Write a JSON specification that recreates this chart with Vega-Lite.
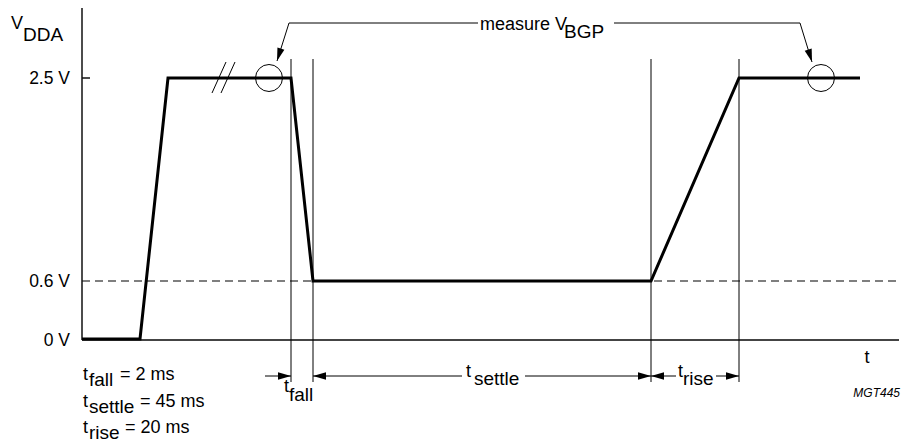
{
  "$schema": "https://vega.github.io/schema/vega-lite/v6.json",
  "width": 901,
  "height": 444,
  "autosize": {"type": "fit", "contains": "padding"},
  "padding": 0,
  "background": "white",
  "config": {"view": {"stroke": null}, "font": "Liberation Sans"},
  "datasets": {
    "segments": [
      {"part": "ref", "x": 82, "v": 59, "x2": 899, "v2": 59},
      {"part": "axis_y", "x": 82, "v": 0, "x2": 82, "v2": 332},
      {"part": "axis_x", "x": 82, "v": 0, "x2": 899, "v2": 0},
      {"part": "tick", "x": 82, "v": 262, "x2": 90, "v2": 262},
      {"part": "guide", "x": 291, "v": 281, "x2": 291, "v2": -42},
      {"part": "guide", "x": 313, "v": 281, "x2": 313, "v2": -42},
      {"part": "guide", "x": 651, "v": 281, "x2": 651, "v2": -42},
      {"part": "guide", "x": 739, "v": 281, "x2": 739, "v2": -42},
      {"part": "dim", "x": 265, "v": -36, "x2": 291, "v2": -36},
      {"part": "dim", "x": 313, "v": -36, "x2": 462, "v2": -36},
      {"part": "dim", "x": 525, "v": -36, "x2": 651, "v2": -36},
      {"part": "dim", "x": 651, "v": -36, "x2": 676, "v2": -36},
      {"part": "dim", "x": 716, "v": -36, "x2": 739, "v2": -36},
      {"part": "callout", "x": 289, "v": 317, "x2": 478, "v2": 317},
      {"part": "callout", "x": 289, "v": 317, "x2": 277, "v2": 279},
      {"part": "callout", "x": 614, "v": 317, "x2": 800, "v2": 317},
      {"part": "callout", "x": 800, "v": 317, "x2": 812, "v2": 278},
      {"part": "break", "x": 212, "v": 247, "x2": 226, "v2": 278},
      {"part": "break", "x": 221, "v": 247, "x2": 235, "v2": 278}
    ],
    "wave": [
      {"x": 82, "v": 1},
      {"x": 140, "v": 1},
      {"x": 168, "v": 262},
      {"x": 291, "v": 262},
      {"x": 313, "v": 59},
      {"x": 651, "v": 59},
      {"x": 739, "v": 262},
      {"x": 860, "v": 262}
    ],
    "markers": [
      {"x": 269, "v": 262},
      {"x": 821, "v": 262}
    ],
    "arrows": [
      {"dir": "down-left", "x": 277, "v": 279},
      {"dir": "down-right", "x": 812, "v": 278},
      {"dir": "right", "x": 291, "v": -36},
      {"dir": "left", "x": 313, "v": -36},
      {"dir": "right", "x": 651, "v": -36},
      {"dir": "left", "x": 651, "v": -36},
      {"dir": "right", "x": 739, "v": -36}
    ],
    "labels": [
      {"kind": "axis", "x": 70, "v": 256, "text": "2.5 V"},
      {"kind": "axis", "x": 70, "v": 53, "text": "0.6 V"},
      {"kind": "axis", "x": 70, "v": -6, "text": "0 V"},
      {"kind": "main", "x": 11, "v": 311, "text": "V"},
      {"kind": "sub", "x": 23, "v": 299, "text": "DDA"},
      {"kind": "main", "x": 480, "v": 310, "text": "measure V"},
      {"kind": "sub", "x": 564, "v": 302, "text": "BGP"},
      {"kind": "center", "x": 867, "v": -23, "text": "t"},
      {"kind": "note", "x": 900, "v": -57, "text": "MGT445"},
      {"kind": "main", "x": 284, "v": -52, "text": "t"},
      {"kind": "sub", "x": 289, "v": -61, "text": "fall"},
      {"kind": "main", "x": 466, "v": -37, "text": "t"},
      {"kind": "sub", "x": 474, "v": -45, "text": "settle"},
      {"kind": "main", "x": 678, "v": -37, "text": "t"},
      {"kind": "sub", "x": 683, "v": -45, "text": "rise"},
      {"kind": "main", "x": 83, "v": -40, "text": "t"},
      {"kind": "sub", "x": 89, "v": -46, "text": "fall"},
      {"kind": "main", "x": 120, "v": -40, "text": "= 2 ms"},
      {"kind": "main", "x": 83, "v": -67, "text": "t"},
      {"kind": "sub", "x": 89, "v": -73, "text": "settle"},
      {"kind": "main", "x": 140, "v": -67, "text": "= 45 ms"},
      {"kind": "main", "x": 83, "v": -93, "text": "t"},
      {"kind": "sub", "x": 89, "v": -99, "text": "rise"},
      {"kind": "main", "x": 125, "v": -93, "text": "= 20 ms"}
    ]
  },
  "encoding": {
    "x": {"field": "x", "type": "quantitative", "scale": {"domain": [0, 901], "nice": false, "zero": false}, "axis": null},
    "y": {"field": "v", "type": "quantitative", "scale": {"domain": [-104, 340], "nice": false, "zero": false}, "axis": null}
  },
  "layer": [
    {
      "data": {"name": "segments"},
      "transform": [{"filter": "datum.part === 'ref'"}],
      "mark": {"type": "rule", "color": "black", "strokeWidth": 1.2, "strokeDash": [8, 5]},
      "encoding": {"x2": {"field": "x2"}, "y2": {"field": "v2"}}
    },
    {
      "data": {"name": "segments"},
      "transform": [{"filter": "datum.part === 'axis_x'"}],
      "mark": {"type": "rule", "color": "#444444", "strokeWidth": 2},
      "encoding": {"x2": {"field": "x2"}, "y2": {"field": "v2"}}
    },
    {
      "data": {"name": "segments"},
      "transform": [{"filter": "datum.part === 'axis_y' || datum.part === 'tick'"}],
      "mark": {"type": "rule", "color": "#111111", "strokeWidth": 1.5},
      "encoding": {"x2": {"field": "x2"}, "y2": {"field": "v2"}}
    },
    {
      "data": {"name": "segments"},
      "transform": [{"filter": "datum.part === 'guide' || datum.part === 'dim' || datum.part === 'callout' || datum.part === 'break'"}],
      "mark": {"type": "rule", "color": "black", "strokeWidth": 1},
      "encoding": {"x2": {"field": "x2"}, "y2": {"field": "v2"}}
    },
    {
      "data": {"name": "wave"},
      "mark": {"type": "line", "color": "black", "strokeWidth": 3, "strokeJoin": "miter", "strokeCap": "butt"},
      "encoding": {}
    },
    {
      "data": {"name": "markers"},
      "mark": {"type": "point", "shape": "circle", "filled": false, "size": 729, "stroke": "black", "strokeWidth": 1, "opacity": 1},
      "encoding": {}
    },
    {
      "data": {"name": "arrows"},
      "transform": [{"filter": "datum.dir === 'right'"}],
      "mark": {"type": "point", "shape": "M0,0L-0.28,-1L0.28,-1Z", "filled": true, "color": "black", "size": 676, "angle": 270, "opacity": 1, "strokeWidth": 0},
      "encoding": {}
    },
    {
      "data": {"name": "arrows"},
      "transform": [{"filter": "datum.dir === 'left'"}],
      "mark": {"type": "point", "shape": "M0,0L-0.28,-1L0.28,-1Z", "filled": true, "color": "black", "size": 676, "angle": 90, "opacity": 1, "strokeWidth": 0},
      "encoding": {}
    },
    {
      "data": {"name": "arrows"},
      "transform": [{"filter": "datum.dir === 'down-left'"}],
      "mark": {"type": "point", "shape": "M0,0L-0.28,-1L0.28,-1Z", "filled": true, "color": "black", "size": 676, "angle": 17.5, "opacity": 1, "strokeWidth": 0},
      "encoding": {}
    },
    {
      "data": {"name": "arrows"},
      "transform": [{"filter": "datum.dir === 'down-right'"}],
      "mark": {"type": "point", "shape": "M0,0L-0.28,-1L0.28,-1Z", "filled": true, "color": "black", "size": 676, "angle": 343, "opacity": 1, "strokeWidth": 0},
      "encoding": {}
    },
    {
      "data": {"name": "labels"},
      "transform": [{"filter": "datum.kind === 'axis'"}],
      "mark": {"type": "text", "align": "right", "baseline": "alphabetic", "font": "Liberation Sans", "fontSize": 17.5, "color": "black"},
      "encoding": {"text": {"field": "text"}}
    },
    {
      "data": {"name": "labels"},
      "transform": [{"filter": "datum.kind === 'main'"}],
      "mark": {"type": "text", "align": "left", "baseline": "alphabetic", "font": "Liberation Sans", "fontSize": 18, "color": "black"},
      "encoding": {"text": {"field": "text"}}
    },
    {
      "data": {"name": "labels"},
      "transform": [{"filter": "datum.kind === 'sub'"}],
      "mark": {"type": "text", "align": "left", "baseline": "alphabetic", "font": "Liberation Sans", "fontSize": 19, "color": "black"},
      "encoding": {"text": {"field": "text"}}
    },
    {
      "data": {"name": "labels"},
      "transform": [{"filter": "datum.kind === 'center'"}],
      "mark": {"type": "text", "align": "center", "baseline": "alphabetic", "font": "Liberation Sans", "fontSize": 18, "color": "black"},
      "encoding": {"text": {"field": "text"}}
    },
    {
      "data": {"name": "labels"},
      "transform": [{"filter": "datum.kind === 'note'"}],
      "mark": {"type": "text", "align": "right", "baseline": "alphabetic", "font": "Liberation Sans", "fontSize": 12, "fontStyle": "italic", "color": "black"},
      "encoding": {"text": {"field": "text"}}
    }
  ]
}
